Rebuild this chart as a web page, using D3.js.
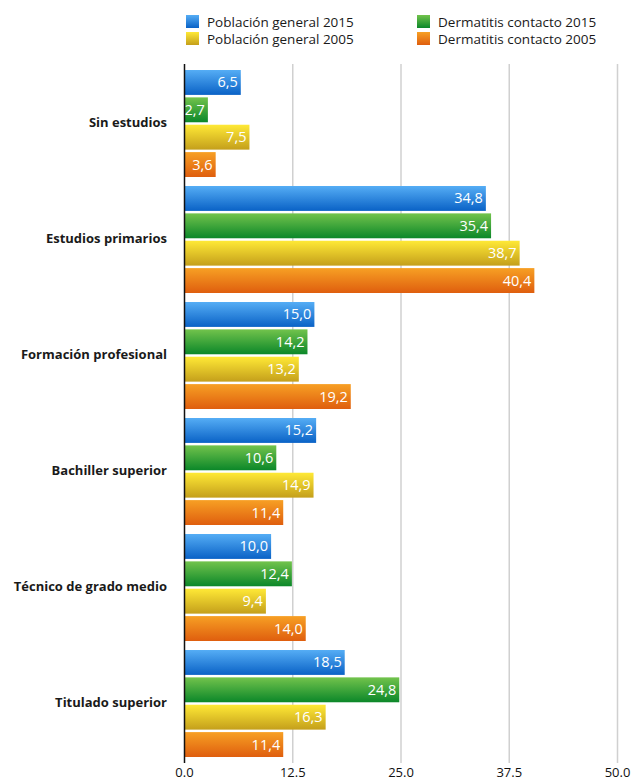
<!DOCTYPE html>
<html><head><meta charset="utf-8">
<script src="https://cdn.jsdelivr.net/npm/d3@7"></script>
<style>body{margin:0;background:#fff}svg{display:block}</style>
</head><body>
<svg id="chart" width="631" height="781"></svg>
<script>
const categories = ["Sin estudios","Estudios primarios","Formación profesional","Bachiller superior","Técnico de grado medio","Titulado superior"];
const seriesNames = ["Población general 2015","Dermatitis contacto 2015","Población general 2005","Dermatitis contacto 2005"];
const pobGeneral2015 = [6.5,34.8,15.0,15.2,10.0,18.5];
const dermContacto2015 = [2.7,35.4,14.2,10.6,12.4,24.8];
const pobGeneral2005 = [7.5,38.7,13.2,14.9,9.4,16.3];
const dermContacto2005 = [3.6,40.4,19.2,11.4,14.0,11.4];
const tickValues = [0,12.5,25,37.5,50];
const seriesValues = [pobGeneral2015, dermContacto2015, pobGeneral2005, dermContacto2005];
const colors = [["#55adf5","#0a62c6"],["#72c34c","#0b8729"],["#ffe936","#c49f1b"],["#f7a024","#df5e0e"]];

const svg = d3.select("#chart");
const font = "'Open Sans', 'Noto Sans', sans-serif";
const defs = svg.append("defs");
colors.forEach((c,i)=>{
  const g = defs.append("linearGradient").attr("id","g"+i).attr("x1",0).attr("y1",0).attr("x2",0).attr("y2",1);
  g.append("stop").attr("offset","0%").attr("stop-color",c[0]);
  g.append("stop").attr("offset","100%").attr("stop-color",c[1]);
});

const x = d3.scaleLinear().domain([0,50]).range([184.5,617.5]);
const y0 = d3.scaleBand().domain(categories).range([64,760]).paddingInner(0).paddingOuter(0);
const y1 = d3.scaleBand().domain(d3.range(4)).range([6,113]).paddingInner(0.09);

// gridlines
svg.append("g").selectAll("line").data(tickValues.slice(1)).join("line")
  .attr("x1",d=>x(d)).attr("x2",d=>x(d)).attr("y1",64).attr("y2",763)
  .attr("stroke","#d0d0d0").attr("stroke-width",1.5);

// bars
const groups = svg.append("g").selectAll("g").data(categories).join("g")
  .attr("transform",c=>`translate(0,${y0(c)})`);
groups.each(function(c,ci){
  const g = d3.select(this);
  const data = seriesValues.map((s,si)=>({si, v:s[ci]}));
  g.selectAll("rect").data(data).join("rect")
    .attr("x",x(0)).attr("y",d=>y1(d.si)).attr("width",d=>x(d.v)-x(0)).attr("height",y1.bandwidth())
    .attr("fill",d=>`url(#g${d.si})`);
  g.selectAll("text").data(data).join("text")
    .attr("x",d=>x(d.v)-3).attr("y",d=>y1(d.si)+y1.bandwidth()/2+5)
    .attr("text-anchor","end").attr("fill","#fff").attr("font-family",font).attr("font-size",14.5)
    .text(d=>d3.format(".1f")(d.v).replace(".",","));
});

// category labels
svg.append("g").selectAll("text").data(categories).join("text")
  .attr("x",167).attr("y",c=>y0(c)+y0.bandwidth()/2+5)
  .attr("text-anchor","end").attr("font-family",font).attr("font-weight","bold").attr("font-size",13)
  .attr("fill","#1a1a1a").text(c=>c);

// axis line
svg.append("line").attr("x1",x(0)).attr("x2",x(0)).attr("y1",64).attr("y2",763).attr("stroke","#111").attr("stroke-width",1.5);

// tick labels
svg.append("g").selectAll("text").data(tickValues).join("text")
  .attr("x",d=>x(d)).attr("y",777).attr("text-anchor","middle")
  .attr("font-family",font).attr("font-size",13).attr("fill","#111")
  .text(d=>d3.format(".1f")(d));

// legend
const legPos = [[186,15],[417,15],[186,32],[417,32]];
const leg = svg.append("g").selectAll("g").data(seriesNames).join("g")
  .attr("transform",(d,i)=>`translate(${legPos[i][0]},${legPos[i][1]})`);
leg.append("rect").attr("width",13).attr("height",13).attr("fill",(d,i)=>`url(#g${i})`);
leg.append("text").attr("x",21).attr("y",11.5).attr("font-family",font).attr("font-size",13.5).attr("fill","#1a1a1a").text(d=>d);
</script>
</body></html>
